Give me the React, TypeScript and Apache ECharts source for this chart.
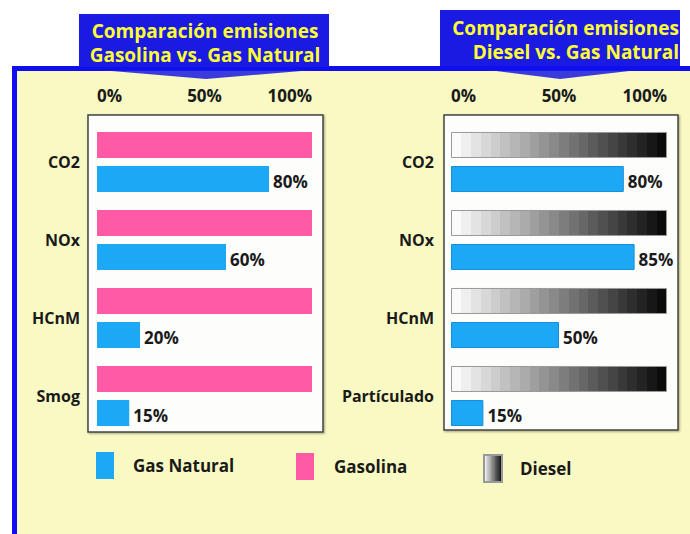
import React, { useEffect, useRef } from 'react';
import * as echarts from 'echarts';

// ---- data ----
const categoriesGasolina = ['CO2', 'NOx', 'HCnM', 'Smog'];
const categoriesDiesel = ['CO2', 'NOx', 'HCnM', 'Partículado'];
const gasolinaValues = [100, 100, 100, 100];
const gasNaturalVsGasolina = [80, 60, 20, 15];
const dieselValues = [100, 100, 100, 100];
const gasNaturalVsDiesel = [80, 85, 50, 15];
const axisMin = 0;
const axisMax = 100;
const axisStep = 50;
const titleLeftLines = ['Comparación emisiones', 'Gasolina vs. Gas Natural'];
const titleRightLines = ['Comparación emisiones', 'Diesel vs. Gas Natural'];

const FONT = '"Open Sans", sans-serif';
const PINK = '#FF5AA6';
const BLUE = '#1DA8F6';
const PANEL = '#F9F9C3';
const BORDER_BLUE = '#0E0EF0';
const TITLE_BLUE = '#1A1AE2';
const TEXT = '#1a1a1a';

function dieselGradient() {
  const n = 22;
  const stops: { offset: number; color: string }[] = [];
  for (let i = 0; i < n; i++) {
    const g = Math.round(250 - (i * 238) / (n - 1));
    const c = `rgb(${g},${g},${g})`;
    stops.push({ offset: i / n, color: c });
    stops.push({ offset: (i + 1) / n, color: c });
  }
  return { type: 'linear', x: 0, y: 0, x2: 1, y2: 0, colorStops: stops };
}

function xAxisFor(gridIndex: number) {
  return {
    type: 'value',
    gridIndex,
    position: 'top',
    min: axisMin,
    max: axisMax,
    interval: axisStep,
    axisLine: { show: false },
    axisTick: { show: false },
    splitLine: { show: false },
    axisLabel: {
      formatter: '{value}%',
      margin: 19,
      fontFamily: FONT,
      fontWeight: 'bold',
      fontSize: 17,
      color: TEXT,
      alignMinLabel: 'left',
      alignMaxLabel: 'right',
    },
  };
}

function yAxisFor(gridIndex: number, data: string[]) {
  return {
    type: 'category',
    gridIndex,
    inverse: true,
    data,
    axisLine: { show: false },
    axisTick: { show: false },
    splitLine: { show: false },
    axisLabel: {
      margin: 17,
      fontFamily: FONT,
      fontWeight: 'bold',
      fontSize: 16,
      color: TEXT,
      padding: [0, 0, 3, 0],
    },
  };
}

const valueLabel = {
  show: true,
  position: 'right',
  distance: 4,
  offset: [0, 2],
  formatter: '{c}%',
  fontFamily: FONT,
  fontWeight: 'bold',
  fontSize: 17,
  color: TEXT,
};

function legendFor(name: string, left: number, top: number, pad: number) {
  return {
    data: [name],
    left,
    top,
    orient: 'horizontal',
    selectedMode: false,
    icon: 'rect',
    itemWidth: 18,
    itemHeight: 27,
    padding: 0,
    textStyle: {
      fontFamily: FONT,
      fontWeight: 'bold',
      fontSize: 17,
      color: TEXT,
      padding: [0, 0, 0, pad],
    },
  };
}

function titleText(text: string, x: number, y: number, align: string) {
  return {
    type: 'text', z: -7, x, y,
    style: { text, fill: '#FFFF33', font: `bold 19px ${FONT}`, align, verticalAlign: 'middle' },
  };
}

const option = {
  animation: false,
  backgroundColor: '#ffffff',
  grid: [
    { left: 97, top: 123, width: 215, height: 312, containLabel: false },
    { left: 451, top: 123, width: 216, height: 312, containLabel: false },
  ],
  xAxis: [xAxisFor(0), xAxisFor(1)],
  yAxis: [yAxisFor(0, categoriesGasolina), yAxisFor(1, categoriesDiesel)],
  legend: [
    legendFor('Gas Natural', 96, 452, 14),
    legendFor('Gasolina', 296, 453, 15),
    legendFor('Diesel', 483, 454, 13),
  ],
  graphic: [
    { type: 'rect', z: -10, shape: { x: 13, y: 67, width: 677, height: 467 }, style: { fill: PANEL } },
    { type: 'rect', z: -9, shape: { x: 12, y: 67, width: 5, height: 467 }, style: { fill: BORDER_BLUE } },
    { type: 'rect', z: -9, shape: { x: 12, y: 66, width: 678, height: 5 }, style: { fill: BORDER_BLUE } },
    { type: 'rect', z: -8, shape: { x: 79, y: 14, width: 250, height: 53 }, style: { fill: TITLE_BLUE } },
    { type: 'rect', z: -8, shape: { x: 440, y: 10, width: 240, height: 56 }, style: { fill: TITLE_BLUE } },
    { type: 'polygon', z: -8, shape: { points: [[100, 70], [313, 70], [206, 79]] }, style: { fill: TITLE_BLUE, opacity: 0.85 } },
    { type: 'polygon', z: -8, shape: { points: [[488, 70], [638, 70], [560, 79]] }, style: { fill: TITLE_BLUE, opacity: 0.85 } },
    titleText(titleLeftLines[0], 205, 31, 'center'),
    titleText(titleLeftLines[1], 205, 55, 'center'),
    titleText(titleRightLines[0], 679, 28, 'right'),
    titleText(titleRightLines[1], 679, 52, 'right'),
    {
      type: 'rect', z: -6, shape: { x: 88, y: 115, width: 235, height: 317 },
      style: { fill: '#FDFDFB', stroke: '#444', lineWidth: 1.5, shadowBlur: 2, shadowColor: 'rgba(0,0,0,0.35)', shadowOffsetX: 1, shadowOffsetY: 1 },
    },
    {
      type: 'rect', z: -6, shape: { x: 444, y: 115, width: 234, height: 315 },
      style: { fill: '#FDFDFB', stroke: '#444', lineWidth: 1.5, shadowBlur: 2, shadowColor: 'rgba(0,0,0,0.35)', shadowOffsetX: 1, shadowOffsetY: 1 },
    },
  ],
  series: [
    {
      name: 'Gasolina', type: 'bar', xAxisIndex: 0, yAxisIndex: 0,
      data: gasolinaValues, barWidth: 26, barGap: '31%',
      itemStyle: { color: PINK },
    },
    {
      name: 'Gas Natural', type: 'bar', xAxisIndex: 0, yAxisIndex: 0,
      data: gasNaturalVsGasolina, barWidth: 26, barGap: '31%',
      itemStyle: { color: BLUE },
      label: valueLabel,
    },
    {
      name: 'Diesel', type: 'bar', xAxisIndex: 1, yAxisIndex: 1,
      data: dieselValues, barWidth: 26, barGap: '31%',
      itemStyle: { color: dieselGradient(), borderColor: '#999', borderWidth: 1 },
    },
    {
      name: 'Gas Natural', type: 'bar', xAxisIndex: 1, yAxisIndex: 1,
      data: gasNaturalVsDiesel, barWidth: 26, barGap: '31%',
      itemStyle: { color: BLUE, borderColor: '#1590D8', borderWidth: 1 },
      label: valueLabel,
    },
  ],
};

export default function App() {
  const ref = useRef<HTMLDivElement>(null);
  useEffect(() => {
    const chart = echarts.init(ref.current!, null, { renderer: 'svg' });
    chart.setOption(option as any);
    return () => chart.dispose();
  }, []);
  return (
    <div
      ref={ref}
      style={{ position: 'absolute', left: 0, top: 0, width: 690, height: 534 }}
    />
  );
}
